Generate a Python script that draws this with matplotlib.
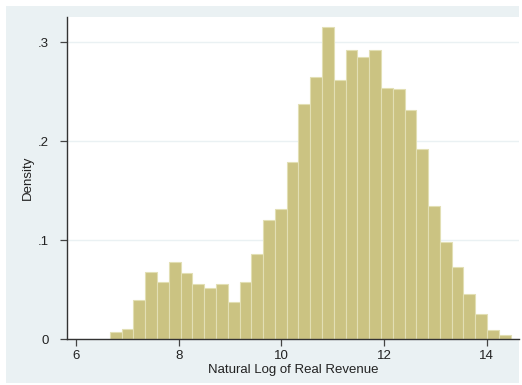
import numpy as np
import matplotlib.pyplot as plt
from matplotlib.patches import Rectangle

plt.rcParams['font.family'] = ['Liberation Sans', 'DejaVu Sans']

# histogram of log real revenue: 34 equal-width bins
bin_start = 6.66
bin_width = 0.2297
density = [0.0077, 0.0104, 0.0397, 0.068, 0.0582, 0.0778, 0.0667, 0.0556,
           0.0522, 0.0556, 0.038, 0.0582, 0.0859, 0.1205, 0.1316, 0.179,
           0.2377, 0.265, 0.316, 0.262, 0.292, 0.2855, 0.292, 0.2535,
           0.2525, 0.232, 0.192, 0.1347, 0.0983, 0.073, 0.0458, 0.0256,
           0.0094, 0.0047]
xticks = [6, 8, 10, 12, 14]
yticks = [0, 0.1, 0.2, 0.3]
ytick_labels = ['0', '.1', '.2', '.3']

fig = plt.figure(figsize=(5.22, 3.85), dpi=100, facecolor='white')
# Stata-style graph region
fig.patches.append(Rectangle((6 / 522, 2 / 385), 513 / 522, 377 / 385,
                             transform=fig.transFigure, facecolor='#eaf1f3',
                             edgecolor='none', zorder=-1))

ax = fig.add_axes([0.1284, 0.1187, 0.8656, 0.8371])
ax.set_facecolor('white')

lefts = bin_start + bin_width * np.arange(len(density))
ax.bar(lefts, density, width=bin_width, align='edge', color='#cbc382',
       edgecolor='#e2dfb4', linewidth=0.8, zorder=2)

ax.set_xlim(5.825, 14.63)
ax.set_ylim(0, 0.3256)
ax.set_xticks(xticks)
ax.set_yticks(yticks)
ax.set_yticklabels(ytick_labels)
ax.yaxis.grid(True, color='#eaf1f3', linewidth=1.0, zorder=0)
ax.set_axisbelow(True)

for side in ('top', 'right'):
    ax.spines[side].set_visible(False)
for side in ('left', 'bottom'):
    ax.spines[side].set_color('#333333')
    ax.spines[side].set_linewidth(1.0)
ax.tick_params(direction='out', length=5, width=0.9, color='#444444',
               labelsize=9.5, labelcolor='#222222')
ax.tick_params(axis='x', pad=3)
ax.tick_params(axis='y', pad=8)

ax.set_xlabel('Natural Log of Real Revenue', fontsize=9.5, color='#222222', labelpad=1)
ax.set_ylabel('Density', fontsize=9.5, color='#222222', labelpad=3)

fig.savefig('out.png', dpi=100, facecolor='white')
